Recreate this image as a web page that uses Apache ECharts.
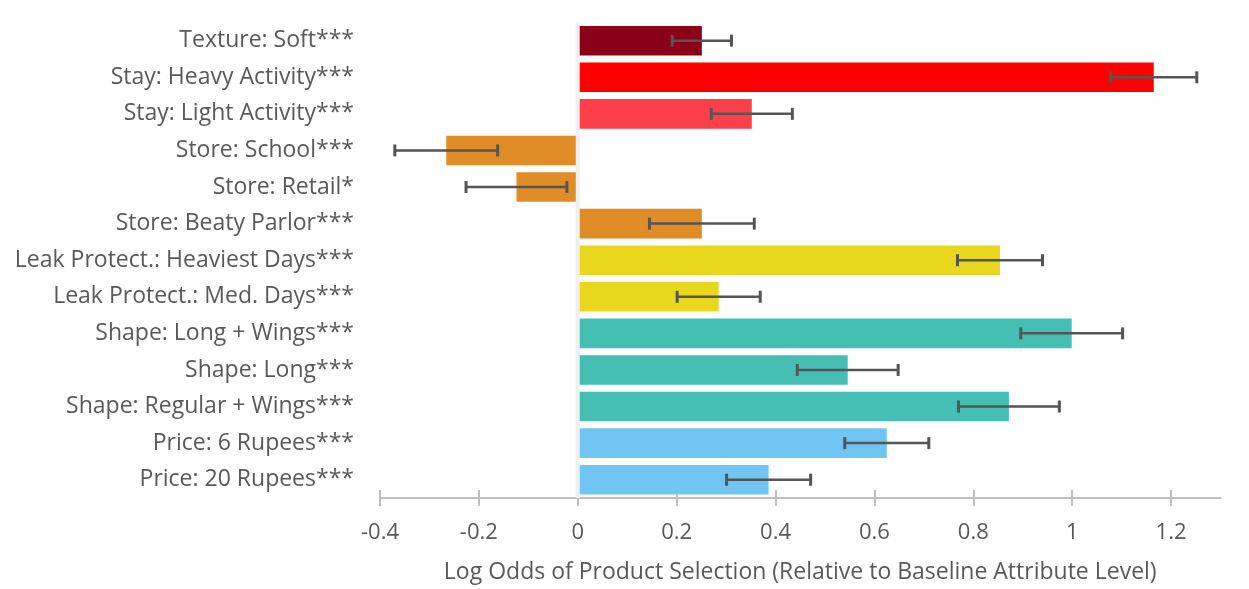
<!DOCTYPE html>
<html>
<head>
<meta charset="utf-8">
<script src="https://cdn.jsdelivr.net/npm/echarts@6/dist/echarts.min.js"></script>
<style>
  html, body { margin: 0; padding: 0; background: #fff; }
  #chart { width: 1249px; height: 589px; }
</style>
</head>
<body>
<div id="chart"></div>
<script>
const categories = [
  'Texture: Soft***',
  'Stay: Heavy Activity***',
  'Stay: Light Activity***',
  'Store: School***',
  'Store: Retail*',
  'Store: Beaty Parlor***',
  'Leak Protect.: Heaviest Days***',
  'Leak Protect.: Med. Days***',
  'Shape: Long + Wings***',
  'Shape: Long***',
  'Shape: Regular + Wings***',
  'Price: 6 Rupees***',
  'Price: 20 Rupees***'
]
// log odds (bar length)
const logOdds = [0.251, 1.165, 0.352, -0.266, -0.124, 0.251, 0.854, 0.285, 0.999, 0.546, 0.872, 0.625, 0.386]
// half width of the error bar
const errors = [0.060, 0.087, 0.082, 0.104, 0.102, 0.106, 0.086, 0.084, 0.103, 0.102, 0.102, 0.085, 0.085]
const tickValues = [-0.4, -0.2, 0, 0.2, 0.4, 0.6, 0.8, 1, 1.2]

const barColors = [
  '#8a0016', '#ff0000', '#fc3f48',
  '#e08d28', '#e08d28', '#e08d28',
  '#e9d71e', '#e9d71e',
  '#45bfb3', '#45bfb3', '#45bfb3',
  '#71c5f3', '#71c5f3'
]

const textColor = '#595959'
const font = '"Open Sans", "Noto Sans", sans-serif'

const chart = echarts.init(document.getElementById('chart'), null, { renderer: 'canvas' })

const errData = logOdds.map((v, i) => [v - errors[i], v + errors[i], i])

chart.setOption({
  backgroundColor: '#ffffff',
  animation: false,
  grid: {
    left: 380,
    right: 28.5,
    top: 22.4,
    bottom: 89,
    containLabel: false
  },
  xAxis: [
    {
      type: 'value',
      min: -0.4,
      max: 1.3,
      position: 'bottom',
      name: 'Log Odds of Product Selection (Relative to Baseline Attribute Level)',
      nameLocation: 'middle',
      nameGap: 63,
      nameTextStyle: { color: textColor, fontSize: 23, fontFamily: font },
      axisLine: { show: true, onZero: false, lineStyle: { color: '#bfbfbf', width: 2 } },
      axisTick: {
        show: true,
        length: 8,
        customValues: tickValues,
        lineStyle: { color: '#bfbfbf', width: 2 }
      },
      axisLabel: {
        customValues: tickValues,
        color: textColor,
        fontSize: 22,
        fontFamily: font,
        margin: 24,
        formatter: v => String(v)
      },
      splitLine: { show: false }
    },
    {
      type: 'value',
      min: -0.4,
      max: 1.3,
      position: 'bottom',
      axisLine: { show: false, onZero: false },
      axisTick: {
        show: true,
        inside: true,
        length: 8,
        customValues: tickValues,
        lineStyle: { color: '#bfbfbf', width: 2 }
      },
      axisLabel: { show: false },
      splitLine: { show: false }
    }
  ],
  yAxis: {
    type: 'category',
    data: categories,
    inverse: true,
    axisLine: { show: false, onZero: false },
    axisTick: { show: false },
    axisLabel: {
      color: textColor,
      fontSize: 23,
      fontFamily: font,
      margin: 26
    }
  },
  series: [
    {
      type: 'bar',
      data: logOdds.map((v, i) => ({ value: v, itemStyle: { color: barColors[i] } })),
      barCategoryGap: '19%',
      z: 2
    },
    {
      // light vertical line at zero, over the bars
      type: 'custom',
      data: [[0]],
      z: 3,
      silent: true,
      renderItem: (params, api) => {
        const cs = params.coordSys
        const x = api.coord([0, 0])[0]
        return {
          type: 'line',
          shape: { x1: x, y1: cs.y, x2: x, y2: cs.y + cs.height },
          style: { stroke: '#f0f0f0', lineWidth: 4 }
        }
      }
    },
    {
      type: 'custom',
      data: errData,
      z: 4,
      renderItem: (params, api) => {
        const idx = api.value(2)
        const lo = api.coord([api.value(0), idx])
        const hi = api.coord([api.value(1), idx])
        const cap = 6
        const style = { stroke: '#555555', lineWidth: 2.5 }
        return {
          type: 'group',
          children: [
            { type: 'line', shape: { x1: lo[0], y1: lo[1], x2: hi[0], y2: hi[1] }, style },
            { type: 'line', shape: { x1: lo[0], y1: lo[1] - cap, x2: lo[0], y2: lo[1] + cap }, style: { stroke: '#555555', lineWidth: 3 } },
            { type: 'line', shape: { x1: hi[0], y1: hi[1] - cap, x2: hi[0], y2: hi[1] + cap }, style: { stroke: '#555555', lineWidth: 3 } }
          ]
        }
      }
    }
  ]
})

window.addEventListener('resize', () => {
  chart.resize()
})
</script>
</body>
</html>
